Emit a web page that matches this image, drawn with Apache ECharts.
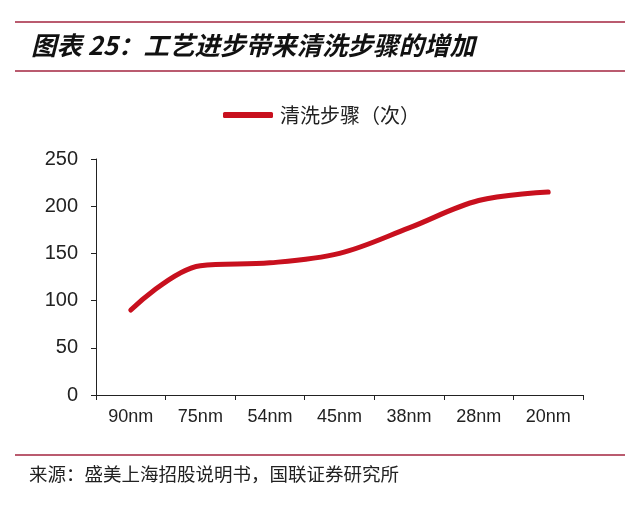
<!DOCTYPE html>
<html>
<head>
<meta charset="utf-8">
<script src="https://cdn.jsdelivr.net/npm/echarts@6/dist/echarts.min.js"></script>
<style>
  html, body { margin: 0; padding: 0; background: #fff; }
  #chart { width: 640px; height: 511px; }
</style>
</head>
<body>
<div id="chart"></div>
<script>
// 数据
const categories = ['90nm', '75nm', '54nm', '45nm', '38nm', '28nm', '20nm'];
const cleanSteps = [90, 137, 140, 150, 177, 206, 215];
const seriesName = '清洗步骤（次）';
const titleText = '图表 25：工艺进步带来清洗步骤的增加';
const sourceText = '来源：盛美上海招股说明书，国联证券研究所';

const ruleColor = '#a3253f';
const lineColor = '#c8101e';
const cjk = '"Noto Sans CJK SC", sans-serif';
const latin = 'Arial, "Liberation Sans", sans-serif';

let chart = echarts.init(document.getElementById('chart'));

let option = {
    animation: false,
    backgroundColor: '#fff',
    graphic: [
        { type: 'line', shape: { x1: 15, y1: 22, x2: 625, y2: 22 }, style: { stroke: ruleColor, lineWidth: 1.5 } },
        {
            type: 'text', left: 31, top: 33,
            style: { text: titleText, font: 'italic bold 25.5px ' + cjk, fill: '#111' }
        },
        { type: 'line', shape: { x1: 15, y1: 71, x2: 625, y2: 71 }, style: { stroke: ruleColor, lineWidth: 1.5 } },
        { type: 'line', shape: { x1: 15, y1: 455, x2: 625, y2: 455 }, style: { stroke: ruleColor, lineWidth: 1.5 } },
        {
            type: 'text', left: 29, top: 465,
            style: { text: sourceText, font: '18.5px ' + cjk, fill: '#222' }
        }
    ],
    legend: {
        top: 100,
        left: 218,
        itemWidth: 50,
        itemHeight: 6,
        icon: 'roundRect',
        itemGap: 10,
        textStyle: { fontFamily: cjk, fontSize: 20, color: '#222', padding: [0, 0, 0, 2] },
        data: [seriesName]
    },
    grid: { left: 96, right: 57, top: 159, bottom: 116 },
    xAxis: {
        type: 'category',
        data: categories,
        boundaryGap: true,
        axisLine: { lineStyle: { color: '#222', width: 1 } },
        axisTick: { show: true, length: 5, lineStyle: { color: '#222' } },
        axisLabel: { color: '#222', fontSize: 18, fontFamily: latin, margin: 13 }
    },
    yAxis: {
        type: 'value',
        min: 0,
        max: 250,
        interval: 50,
        axisLine: { show: true, lineStyle: { color: '#222', width: 1 } },
        axisTick: { show: true, length: 5, lineStyle: { color: '#222' } },
        splitLine: { show: false },
        axisLabel: { color: '#222', fontSize: 20, fontFamily: latin, margin: 18 }
    },
    series: [{
        name: seriesName,
        type: 'line',
        data: cleanSteps,
        smooth: 0.35,
        symbol: 'none',
        lineStyle: { color: lineColor, width: 5, cap: 'round' },
        itemStyle: { color: lineColor }
    }]
};

chart.setOption(option);
</script>
</body>
</html>
